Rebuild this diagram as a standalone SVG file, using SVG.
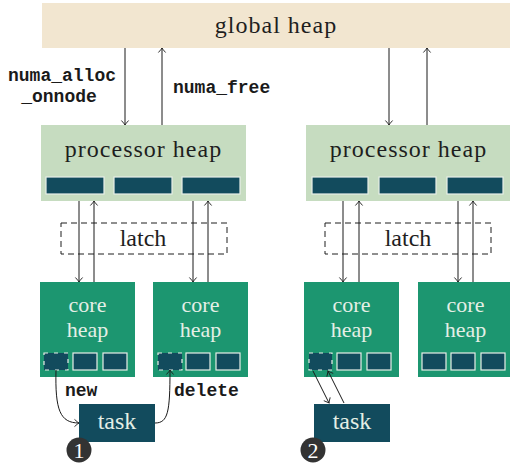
<svg xmlns="http://www.w3.org/2000/svg" width="510" height="466" viewBox="0 0 510 466">
  <defs>
    <marker id="to" markerUnits="userSpaceOnUse" markerWidth="12" markerHeight="12" refX="0" refY="0" viewBox="-6 -6 12 12" orient="auto" overflow="visible">
      <path d="M -4.5 -3.6 Q -1.2 -0.6 0 0 Q -1.2 0.6 -4.5 3.6" fill="none" stroke="#1a1a1a" stroke-width="0.9"/>
    </marker>
    <style>
      .serif { font-family: "Liberation Serif", "DejaVu Serif", serif; font-size: 24px; text-anchor: middle; }
      .small { font-size: 22px; }
      .dark { fill: #1e1e1e; }
      .light { fill: #e4efe6; }
      .mono { font-family: "Liberation Mono", "DejaVu Sans Mono", monospace; font-size: 18px; font-weight: bold; fill: #1a1a1a; }
      .global { fill: #f2e6d0; }
      .proc { fill: #c6dcc0; }
      .core { fill: #1c9670; }
      .slot { fill: #124b5d; stroke: #e8efe8; stroke-width: 1.2; }
      .slot-taken { fill: #124b5d; stroke: #e8efe8; stroke-width: 1.2; stroke-dasharray: 4 6; }
      .task { fill: #124b5d; }
      .latch { fill: none; stroke: #1e1e1e; stroke-width: 1; stroke-dasharray: 6 4; }
      .wire { fill: none; stroke: #1a1a1a; stroke-width: 1; marker-end: url(#to); }
      .badge { fill: #333333; }
      .badge-num { font-family: "Liberation Serif", "DejaVu Serif", serif; font-size: 22px; fill: #ffffff; text-anchor: middle; }
    </style>
  </defs>

  <!-- global heap -->
  <g id="global-heap">
    <rect class="global" x="42" y="3" width="470" height="45"/>
    <text class="serif dark" x="276" y="33" letter-spacing="1">global heap</text>
  </g>

  <!-- processor heaps -->
  <g id="processor-heap-1">
    <rect class="proc" x="41" y="125" width="205" height="76"/>
    <text class="serif dark" x="143.5" y="157" letter-spacing="1">processor heap</text>
    <rect class="slot" x="46" y="177" width="58" height="17"/>
    <rect class="slot" x="114" y="177" width="58" height="17"/>
    <rect class="slot" x="182" y="177" width="58" height="17"/>
  </g>
  <g id="processor-heap-2">
    <rect class="proc" x="306" y="125" width="205" height="76"/>
    <text class="serif dark" x="408.5" y="157" letter-spacing="1">processor heap</text>
    <rect class="slot" x="312" y="177" width="56" height="17"/>
    <rect class="slot" x="379" y="177" width="57" height="17"/>
    <rect class="slot" x="447" y="177" width="56" height="17"/>
  </g>

  <!-- latches -->
  <g id="latch-1">
    <rect class="latch" x="61" y="223" width="166" height="31"/>
    <text class="serif dark" x="143" y="246">latch</text>
  </g>
  <g id="latch-2">
    <rect class="latch" x="325" y="223" width="166" height="31"/>
    <text class="serif dark" x="408" y="246">latch</text>
  </g>

  <!-- core heaps -->
  <g id="core-heap-1">
    <rect class="core" x="40" y="282" width="95" height="95"/>
    <text class="serif small light" x="87.5" y="312">core</text>
    <text class="serif small light" x="87.5" y="337">heap</text>
    <rect class="slot-taken" x="44" y="353" width="24" height="17"/>
    <rect class="slot" x="73" y="353" width="24" height="17"/>
    <rect class="slot" x="103" y="353" width="24" height="17"/>
  </g>
  <g id="core-heap-2">
    <rect class="core" x="153" y="282" width="95" height="95"/>
    <text class="serif small light" x="200.5" y="312">core</text>
    <text class="serif small light" x="200.5" y="337">heap</text>
    <rect class="slot-taken" x="158" y="353" width="24" height="17"/>
    <rect class="slot" x="186" y="353" width="24" height="17"/>
    <rect class="slot" x="216" y="353" width="24" height="17"/>
  </g>
  <g id="core-heap-3">
    <rect class="core" x="304" y="282" width="95" height="95"/>
    <text class="serif small light" x="351.5" y="312">core</text>
    <text class="serif small light" x="351.5" y="337">heap</text>
    <rect class="slot-taken" x="309" y="353" width="23" height="17"/>
    <rect class="slot" x="337" y="353" width="24" height="17"/>
    <rect class="slot" x="367" y="353" width="24" height="17"/>
  </g>
  <g id="core-heap-4">
    <rect class="core" x="418" y="282" width="95" height="95"/>
    <text class="serif small light" x="465.5" y="312">core</text>
    <text class="serif small light" x="465.5" y="337">heap</text>
    <rect class="slot" x="422" y="353" width="24" height="17"/>
    <rect class="slot" x="451" y="353" width="24" height="17"/>
    <rect class="slot" x="481" y="353" width="24" height="17"/>
  </g>

  <!-- tasks -->
  <g id="task-1">
    <rect class="task" x="79" y="404" width="76" height="38"/>
    <text class="serif light" x="117" y="429">task</text>
  </g>
  <g id="task-2">
    <rect class="task" x="314" y="404" width="76" height="38"/>
    <text class="serif light" x="352" y="429">task</text>
  </g>

  <!-- scenario badges -->
  <g id="badge-1">
    <circle class="badge" cx="79" cy="450" r="12.5"/>
    <text class="badge-num" x="79" y="457.5">1</text>
  </g>
  <g id="badge-2">
    <circle class="badge" cx="313" cy="450" r="12.5"/>
    <text class="badge-num" x="313" y="457.5">2</text>
  </g>

  <!-- connectors -->
  <g id="connectors">
    <!-- global heap <-> processor heaps -->
    <line class="wire" x1="125" y1="48" x2="125" y2="125"/>
    <line class="wire" x1="162" y1="125" x2="162" y2="48"/>
    <line class="wire" x1="389" y1="48" x2="389" y2="125"/>
    <line class="wire" x1="427" y1="125" x2="427" y2="48"/>

    <!-- processor heaps <-> core heaps -->
    <line class="wire" x1="79" y1="201" x2="79" y2="282"/>
    <line class="wire" x1="94" y1="282" x2="94" y2="201"/>
    <line class="wire" x1="193" y1="201" x2="193" y2="282"/>
    <line class="wire" x1="208" y1="282" x2="208" y2="201"/>
    <line class="wire" x1="343" y1="201" x2="343" y2="282"/>
    <line class="wire" x1="359" y1="282" x2="359" y2="201"/>
    <line class="wire" x1="458" y1="201" x2="458" y2="282"/>
    <line class="wire" x1="473" y1="282" x2="473" y2="201"/>

    <!-- scenario 1: new / delete -->
    <path class="wire" d="M 56 370 C 55 410 60 423 79 423"/>
    <path class="wire" d="M 155 423 C 168 423 170 412 170 370"/>

    <!-- scenario 2 -->
    <line class="wire" x1="313" y1="371" x2="329" y2="403"/>
    <line class="wire" x1="344" y1="403" x2="328" y2="371"/>
  </g>

  <!-- connector labels -->
  <g id="labels">
    <text class="mono" x="62" y="81" text-anchor="middle">numa_alloc</text>
    <text class="mono" x="59" y="102" text-anchor="middle">_onnode</text>
    <text class="mono" x="173" y="93">numa_free</text>
    <text class="mono" x="65" y="396">new</text>
    <text class="mono" x="174" y="396">delete</text>
  </g>
</svg>
